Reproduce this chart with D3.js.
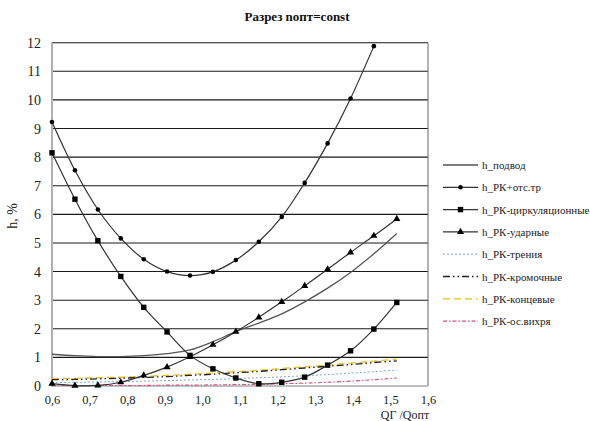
<!DOCTYPE html>
<html><head><meta charset="utf-8">
<script src="https://cdn.jsdelivr.net/npm/d3@7"></script>
<style>body{margin:0;background:#fff}svg{display:block}</style>
</head><body><svg id="c" width="590" height="421"></svg>
<script>
const xCats = [0.600,0.661,0.722,0.783,0.844,0.906,0.967,1.028,1.089,1.150,1.211,1.272,1.333,1.394,1.456,1.517];
const hPodvod   = [1.11,1.06,1.03,1.03,1.06,1.13,1.26,1.55,1.90,2.20,2.52,2.94,3.42,3.97,4.62,5.33];
const hOtsTr    = [9.23,7.54,6.17,5.16,4.43,4.00,3.86,3.99,4.40,5.04,5.91,7.10,8.48,10.05,11.88];
const hCirc     = [8.15,6.53,5.08,3.83,2.75,1.89,1.07,0.60,0.28,0.08,0.13,0.31,0.73,1.23,1.99,2.92];
const hUdar     = [0.08,0.01,0.02,0.13,0.37,0.66,1.02,1.44,1.90,2.40,2.94,3.50,4.08,4.67,5.25,5.84];
const hTren     = [0.12,0.13,0.14,0.15,0.17,0.19,0.21,0.23,0.26,0.29,0.32,0.36,0.40,0.45,0.50,0.56];
const hKrom     = [0.22,0.23,0.25,0.27,0.30,0.33,0.37,0.41,0.46,0.51,0.57,0.63,0.69,0.75,0.82,0.88];
const hKonc     = [0.26,0.27,0.29,0.31,0.34,0.37,0.41,0.45,0.50,0.55,0.61,0.67,0.73,0.80,0.87,0.94];
const hVihr     = [0.03,0.02,0.02,0.02,0.02,0.03,0.03,0.04,0.05,0.06,0.08,0.10,0.13,0.17,0.22,0.28];
const xTicks = [0.6,0.7,0.8,0.9,1.0,1.1,1.2,1.3,1.4,1.5,1.6];
const yTicks = [0,1,2,3,4,5,6,7,8,9,10,11,12];
const seriesNames = ["h_подвод","h_РК+отс.тр","h_РК-циркуляционные","h_РК-ударные","h_РК-трения","h_РК-кромочные","h_РК-концевые","h_РК-ос.вихря"];
const title = "Разрез nопт=const";

const FONT = '"Liberation Serif","Times New Roman",serif';
const svg = d3.select("#c");
const L=52,R=428,T=42.7,B=386;
const x = d3.scaleLinear().domain([0.6,1.6]).range([L,R]);
const y = d3.scaleLinear().domain([0,12]).range([B,T]);

svg.append("g").selectAll("line").data(yTicks.filter(d=>d>0)).join("line")
  .attr("x1",L).attr("x2",R).attr("y1",d=>y(d)).attr("y2",d=>y(d))
  .attr("stroke","#1a1a1a").attr("stroke-width",1.1);
svg.append("line").attr("x1",R).attr("x2",R).attr("y1",T).attr("y2",B).attr("stroke","#666").attr("stroke-width",1);
svg.append("line").attr("x1",L).attr("x2",R).attr("y1",B).attr("y2",B).attr("stroke","#aaa").attr("stroke-width",1.5);
svg.append("line").attr("x1",L).attr("x2",L).attr("y1",T).attr("y2",B+1).attr("stroke","#b0b0b0").attr("stroke-width",2);

const ya = svg.append("g").attr("transform",`translate(${L},0)`).call(d3.axisLeft(y).tickValues(yTicks).tickSize(0).tickPadding(11));
ya.select(".domain").remove();
ya.attr("font-family",FONT);
ya.selectAll("text").style("font-family",FONT).attr("font-size",14).attr("fill","#222");
const xa = svg.append("g").attr("transform",`translate(0,${B})`).call(d3.axisBottom(x).tickValues(xTicks).tickSize(0).tickPadding(9).tickFormat(d=>d3.format(".1f")(d).replace(".",",")));
xa.select(".domain").remove();
xa.attr("font-family",FONT);
xa.selectAll("text").style("font-family",FONT).attr("font-size",12.5).attr("fill","#222");

svg.append("text").attr("x",297).attr("y",21).attr("text-anchor","middle").style("font-family",FONT).attr("font-weight","bold").attr("font-size",13).attr("fill","#111").text(title);
svg.append("text").attr("transform","translate(17,216) rotate(-90)").attr("text-anchor","middle").style("font-family",FONT).attr("font-size",14).attr("fill","#222").text("h, %");
svg.append("text").attr("x",405).attr("y",419).attr("text-anchor","middle").style("font-family",FONT).attr("font-size",12).attr("fill","#222").text("QГ /Qопт");

const line = d3.line().x(d=>x(d[0])).y(d=>y(d[1])).curve(d3.curveCatmullRom.alpha(0.5));
const styles = [
 {vals:hPodvod, color:"#555", w:1.3, dash:null, marker:null},
 {vals:hOtsTr, color:"#333", w:1.2, dash:null, marker:"circle"},
 {vals:hCirc, color:"#333", w:1.2, dash:null, marker:"square"},
 {vals:hUdar, color:"#333", w:1.2, dash:null, marker:"triangle"},
 {vals:hTren, color:"#7fa8d8", w:1, dash:"2,2", marker:null},
 {vals:hKrom, color:"#222", w:1.3, dash:"7,3,1.5,3,1.5,3", marker:null},
 {vals:hKonc, color:"#e8c020", w:1.3, dash:"7,4", marker:null},
 {vals:hVihr, color:"#d8507a", w:1.1, dash:"4,2,1.5,2", marker:null}
];
const drawOrder=[4,7,6,5,0,3,2,1];
drawOrder.forEach(i=>{
  const s=styles[i];
  const pts=s.vals.map((v,k)=>[xCats[k],v]);
  svg.append("path").attr("d",line(pts)).attr("fill","none").attr("stroke",s.color).attr("stroke-width",s.w).attr("stroke-dasharray",s.dash);
});
function marker(g,type,cx,cy){
  if(type==="circle") g.append("circle").attr("cx",cx).attr("cy",cy).attr("r",2.3).attr("fill","#000");
  else if(type==="square") g.append("rect").attr("x",cx-2.7).attr("y",cy-2.7).attr("width",5.4).attr("height",5.4).attr("fill","#000");
  else if(type==="triangle") g.append("path").attr("d",d3.symbol(d3.symbolTriangle,22)()).attr("transform",`translate(${cx},${cy})`).attr("fill","#000");
}
[1,2,3].forEach(i=>{
  const s=styles[i]; const g=svg.append("g");
  s.vals.forEach((v,k)=>marker(g,s.marker,x(xCats[k]),y(v)));
});

const lg = svg.append("g");
seriesNames.forEach((n,i)=>{
  const s=styles[i]; const yy=165+i*22.3;
  lg.append("line").attr("x1",443).attr("x2",478).attr("y1",yy).attr("y2",yy).attr("stroke",s.color).attr("stroke-width",s.w).attr("stroke-dasharray",s.dash);
  if(s.marker) marker(lg,s.marker,460.5,yy);
  lg.append("text").attr("x",482).attr("y",yy+4).style("font-family",FONT).attr("font-size",11).attr("fill","#222").text(n);
});
</script></body></html>
